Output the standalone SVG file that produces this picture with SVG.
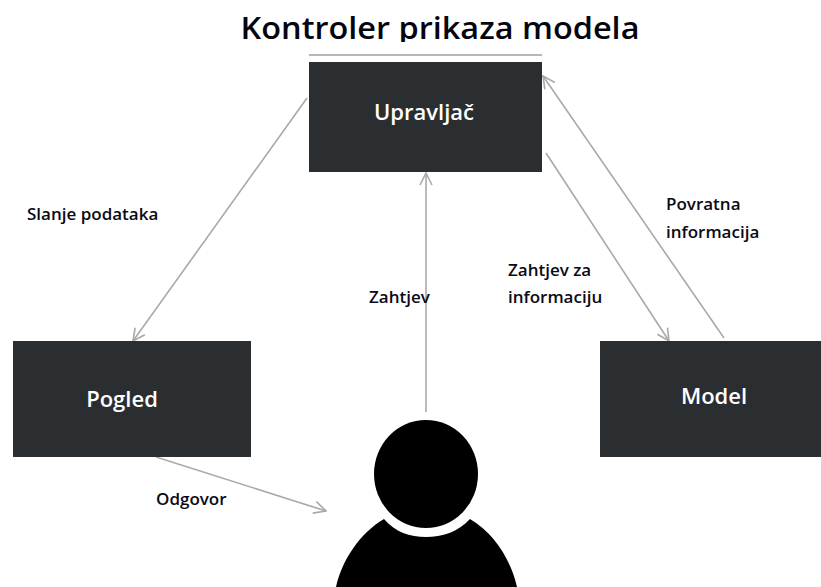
<svg xmlns="http://www.w3.org/2000/svg" width="821" height="587" viewBox="0 0 821 587">
<defs>
<style>
.box{fill:#2b2e30}
.c{fill:none;stroke:#a9a9a9;stroke-width:1.6}
.t{font-family:"Open Sans","Noto Sans",sans-serif;font-weight:600;fill:#0a0a14;font-size:17px}
.w{font-family:"Open Sans","Noto Sans",sans-serif;font-weight:600;fill:#fff;font-size:22px;text-anchor:middle}
</style>
<marker id="a" viewBox="-13 -7 14 14" markerWidth="14" markerHeight="14" refX="0" refY="0" orient="auto" markerUnits="userSpaceOnUse"><path d="M-12,-6 L0,0 L-12,6" fill="none" stroke="#a9a9a9" stroke-width="1.6"/></marker>
<clipPath id="tc"><rect x="0" y="0" width="821" height="42"/></clipPath>
</defs>
<rect width="821" height="587" fill="#fff"/>
<text id="title" x="440" y="39" clip-path="url(#tc)" text-anchor="middle" textLength="399" lengthAdjust="spacingAndGlyphs" style="font-family:'Open Sans','Noto Sans',sans-serif;font-weight:600;font-size:31px;fill:#050510">Kontroler prikaza modela</text>
<path d="M309,55 H542" stroke="#a0a0a0" stroke-width="1.5" fill="none"/>
<g id="connectors">
<path class="c" d="M307,98 L133,341" marker-end="url(#a)"/>
<path class="c" d="M426,412 L426,173" marker-end="url(#a)"/>
<path class="c" d="M546,153 L669,341" marker-end="url(#a)"/>
<path class="c" d="M724,338 L543,76" marker-end="url(#a)"/>
<path class="c" d="M156,457 L326,511" marker-end="url(#a)"/>
</g>
<g id="upravljac"><rect class="box" x="309" y="62" width="233" height="110"/><text class="w" x="424" y="120">Upravljač</text></g>
<g id="pogled"><rect class="box" x="13" y="341" width="238" height="116"/><text class="w" x="122" y="407">Pogled</text></g>
<g id="model"><rect class="box" x="600" y="341" width="221" height="116"/><text class="w" x="714" y="404">Model</text></g>
<g id="korisnik">
<ellipse cx="426" cy="474" rx="52" ry="54"/>
<path d="M336,587 C342,560 360,533 384,519 C395,532 410,537 426,537 C442,537 458,532 470,519 C494,533 511,560 517,587 Z"/>
</g>
<g id="labels">
<text class="t" x="27" y="220">Slanje podataka</text>
<text class="t" x="369" y="303">Zahtjev</text>
<text class="t" x="508" y="276">Zahtjev za</text>
<text class="t" x="508" y="303">informaciju</text>
<text class="t" x="666" y="210">Povratna</text>
<text class="t" x="666" y="238">informacija</text>
<text class="t" x="156" y="505">Odgovor</text>
</g>
</svg>
